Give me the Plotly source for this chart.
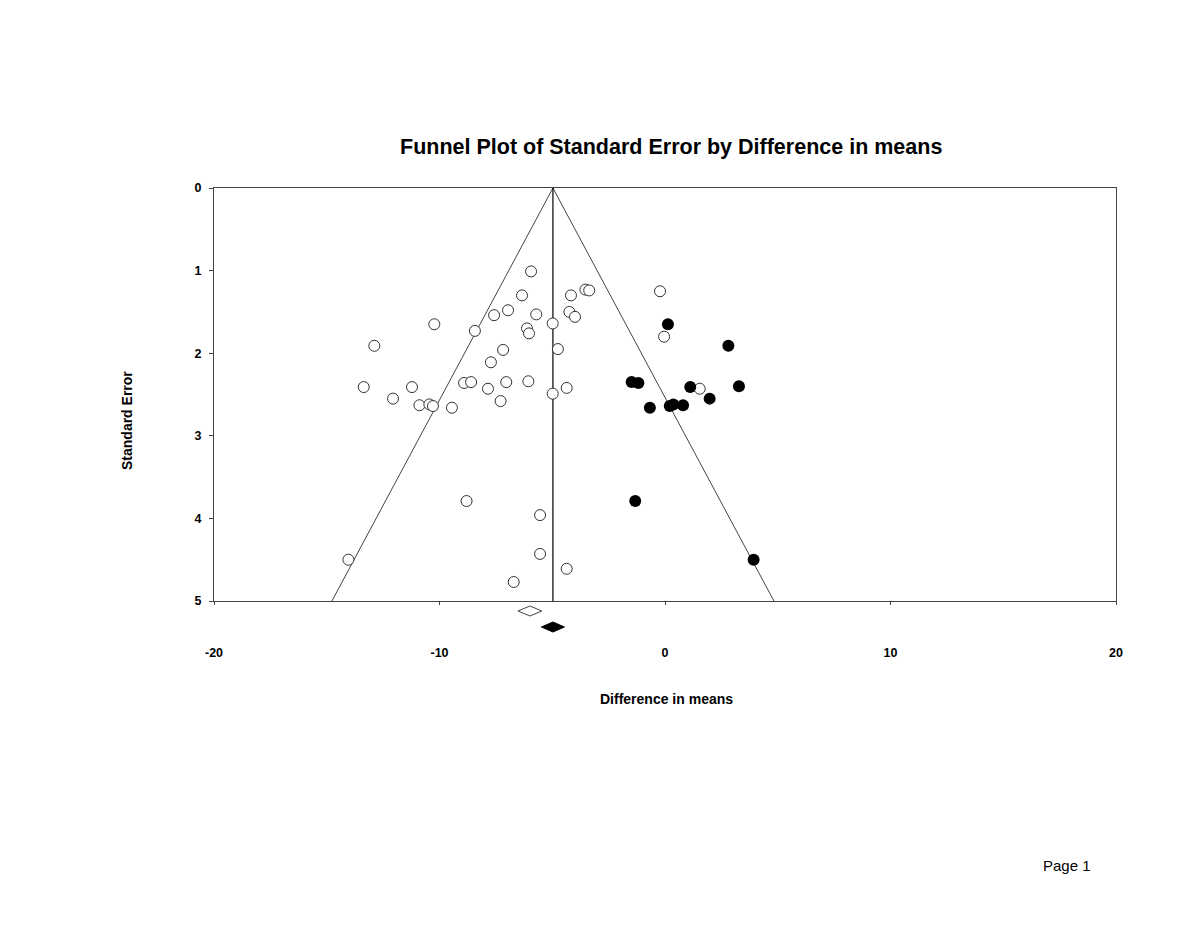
"""Funnel plot (trim-and-fill) — Plotly."""

import plotly.graph_objects as go
from plotly.subplots import make_subplots

# observed studies (open circles)
obs_diff = [-5.94, -6.34, -4.17, -3.53, -3.36, -7.58, -6.96, -5.71, -4.24, -3.99,
            -4.98, -10.23, -8.43, -6.12, -6.03, -12.89, -7.18, -4.75, -7.72, -13.36,
            -11.22, -8.91, -8.60, -7.04, -6.06, -7.85, -4.36, -4.98, -12.06, -7.29,
            -10.89, -10.45, -10.29, -9.45, -0.22, -0.04, 1.54, -14.04, -8.80, -5.54,
            -5.54, -4.36, -6.71]
obs_se = [1.01, 1.30, 1.30, 1.23, 1.24, 1.54, 1.48, 1.53, 1.50, 1.56,
          1.64, 1.65, 1.73, 1.70, 1.76, 1.91, 1.96, 1.95, 2.11, 2.41,
          2.41, 2.36, 2.35, 2.35, 2.34, 2.43, 2.42, 2.49, 2.55, 2.58,
          2.63, 2.62, 2.64, 2.66, 1.25, 1.80, 2.43, 4.50, 3.79, 3.96,
          4.43, 4.61, 4.77]

# imputed studies (filled circles)
imp_diff = [0.13, 2.81, -1.48, -1.18, 1.12, 3.28, 1.98, -0.67, 0.21, 0.37, 0.80, -1.32, 3.93]
imp_se = [1.65, 1.91, 2.35, 2.36, 2.41, 2.40, 2.55, 2.66, 2.64, 2.62, 2.63, 3.79, 4.50]

# summary estimates: observed (open diamond) and adjusted (filled diamond)
summary_center = [-5.99, -4.97]
summary_half = [0.53, 0.51]
summary_row = [0.75, 0.35]

funnel_center = -4.97
funnel_se = [0, 5]

x_ticks = [-20, -10, 0, 10, 20]
x_ticktext = ["-20", "-10", "0", "10", "20"]
y_ticks = [0, 1, 2, 3, 4, 5]

FONT = "Arial, 'Liberation Sans', sans-serif"
W, H = 1200, 927
OFF = 7  # page body margin
L, R, T, B = 213 - OFF, 85 + OFF, 187 - OFF, 287 + OFF
PW, PH = W - L - R, H - T - B


def px(x, y):
    """reference pixel -> paper coords"""
    return (x - OFF - L) / PW, (H - B - (y - OFF)) / PH


fig = make_subplots(rows=2, cols=1, shared_xaxes=True, vertical_spacing=0,
                    row_heights=[PH - 40, 40])

# funnel lines
fig.add_trace(go.Scatter(
    x=[funnel_center - 1.96 * funnel_se[1], funnel_center, funnel_center + 1.96 * funnel_se[1]],
    y=[funnel_se[1], funnel_se[0], funnel_se[1]],
    mode="lines", line=dict(color="#444", width=1), hoverinfo="skip",
), row=1, col=1)
fig.add_trace(go.Scatter(
    x=[funnel_center, funnel_center], y=funnel_se,
    mode="lines", line=dict(color="black", width=1.2), hoverinfo="skip",
), row=1, col=1)

fig.add_trace(go.Scatter(
    x=obs_diff, y=obs_se, mode="markers", name="Observed",
    marker=dict(size=11, color="white", line=dict(color="#333", width=1)),
), row=1, col=1)
fig.add_trace(go.Scatter(
    x=imp_diff, y=imp_se, mode="markers", name="Imputed",
    marker=dict(size=12, color="black", line=dict(color="black", width=0)),
), row=1, col=1)

# summary diamonds
for i, (c, h, r) in enumerate(zip(summary_center, summary_half, summary_row)):
    filled = i == 1
    fig.add_trace(go.Scatter(
        x=[c - h, c, c + h, c, c - h], y=[r, r + 0.125, r, r - 0.125, r],
        mode="lines", fill="toself",
        fillcolor="black" if filled else "white",
        line=dict(color="black" if filled else "#444", width=1),
        hoverinfo="skip",
    ), row=2, col=1)

fig.update_xaxes(range=[-20, 20], tickvals=x_ticks, ticktext=x_ticktext,
                 showgrid=False, zeroline=False)
fig.update_xaxes(row=1, col=1, showline=True, mirror=True, linecolor="#444",
                 linewidth=1, ticks="outside", ticklen=3, tickcolor="#444",
                 showticklabels=False)
fig.update_xaxes(row=2, col=1, showline=False, ticks="", showticklabels=True,
                 tickfont=dict(family=FONT, size=12.5, color="black", weight="bold"),
                 ticklabelstandoff=2)
fig.update_yaxes(row=1, col=1, range=[5, 0], tickvals=y_ticks,
                 showgrid=False, zeroline=False, showline=True, mirror=True,
                 linecolor="#444", linewidth=1, ticks="outside", ticklen=4,
                 tickcolor="#444", ticklabelstandoff=5,
                 tickfont=dict(family=FONT, size=12.5, color="black", weight="bold"))
fig.update_yaxes(row=2, col=1, range=[0, 1], visible=False, showgrid=False)

anns = [
    ("Funnel Plot of Standard Error by Difference in means", 670, 146, 21.5, "bold", 0),
    ("Difference in means", 665, 698, 14, "bold", 0),
    ("Standard Error", 126, 420, 14, "bold", -90),
    ("Page 1", 1066, 864, 15, "normal", 0),
]
for text, ax, ay, size, weight, ang in anns:
    xf, yf = px(ax, ay)
    fig.add_annotation(text=text, x=xf, y=yf, xref="paper", yref="paper",
                       showarrow=False, textangle=ang, xanchor="center", yanchor="middle",
                       font=dict(family=FONT, size=size, color="black", weight=weight))

fig.update_layout(
    width=W, height=H, margin=dict(l=L, r=R, t=T, b=B),
    showlegend=False, template="plotly_white",
    paper_bgcolor="white", plot_bgcolor="white",
)
fig.write_html("out.html")
